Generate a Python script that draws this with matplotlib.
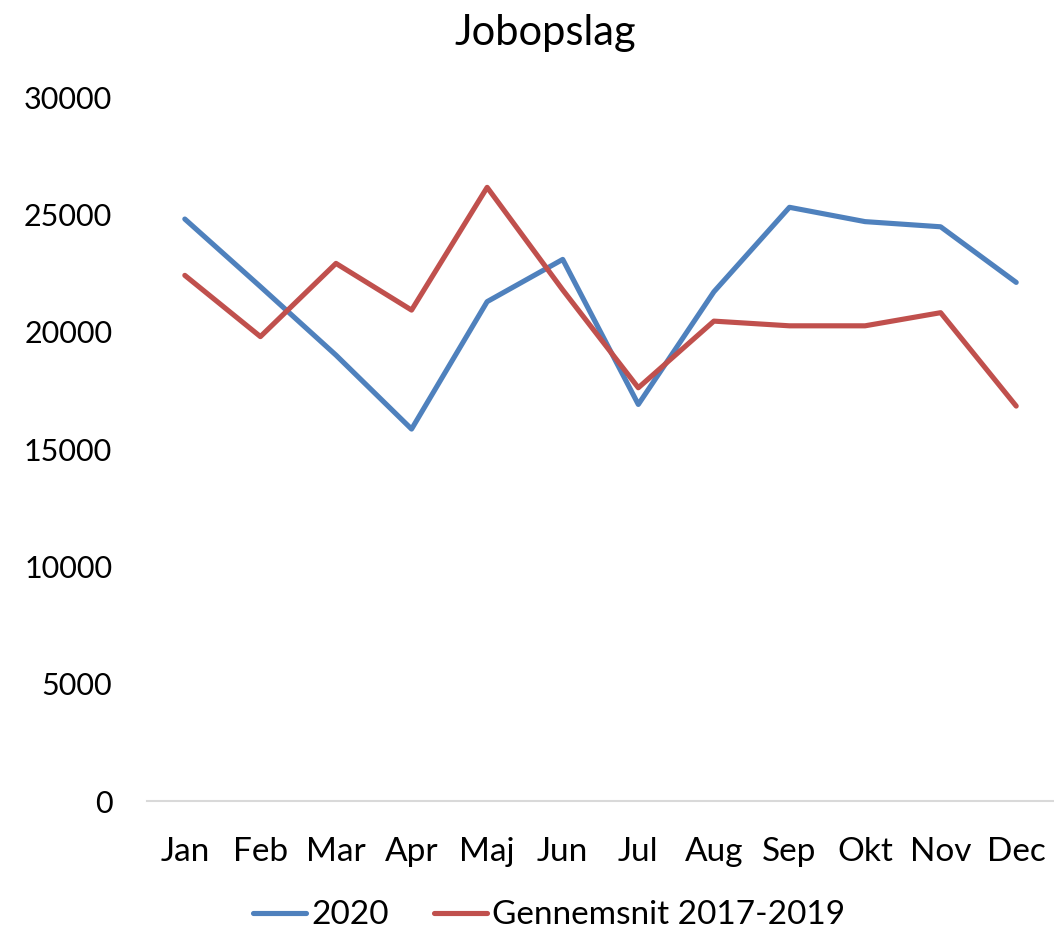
import matplotlib
matplotlib.use("Agg")
import matplotlib.pyplot as plt

plt.rcParams['font.family'] = ['Lato', 'DejaVu Sans']

# data
months = ["Jan", "Feb", "Mar", "Apr", "Maj", "Jun", "Jul", "Aug", "Sep", "Okt", "Nov", "Dec"]
jobs_2020 = [24800, 21920, 19000, 15850, 21280, 23080, 16900, 21700, 25300, 24690, 24470, 22100]
avg_2017_2019 = [22400, 19790, 22910, 20920, 26150, 21780, 17610, 20450, 20250, 20250, 20810, 16830]

fig = plt.figure(figsize=(10.54, 9.31), dpi=100)
ax = fig.add_axes([0.1395, 0.1396, 0.8605, 0.7562])

x = range(len(months))
ax.plot(x, jobs_2020, color='#4F81BD', lw=3.7, label='2020', solid_joinstyle='round', solid_capstyle='round')
ax.plot(x, avg_2017_2019, color='#C0504D', lw=3.7, label='Gennemsnit 2017-2019', solid_joinstyle='round', solid_capstyle='round')

ax.set_xlim(-0.5, len(months) - 0.5)
ax.set_ylim(0, 30000)
ax.set_yticks(range(0, 30001, 5000))
ax.set_xticks(list(x))
ax.set_xticklabels(months)
ax.tick_params(axis='both', length=0)
ax.tick_params(axis='x', pad=26, labelsize=24)
ax.tick_params(axis='y', pad=25, labelsize=22)

for side in ['top', 'right', 'left']:
    ax.spines[side].set_visible(False)
ax.spines['bottom'].set_color('#D9D9D9')
ax.spines['bottom'].set_linewidth(1.5)

fig.text(0.517, 0.965, 'Jobopslag', ha='center', va='center', fontsize=30)

fig.legend(loc='center', bbox_to_anchor=(0.521, 0.017), ncol=2, frameon=False,
           fontsize=24, handlelength=1.6, handletextpad=0.15, columnspacing=1.35)

fig.savefig('out.png', dpi=100)
